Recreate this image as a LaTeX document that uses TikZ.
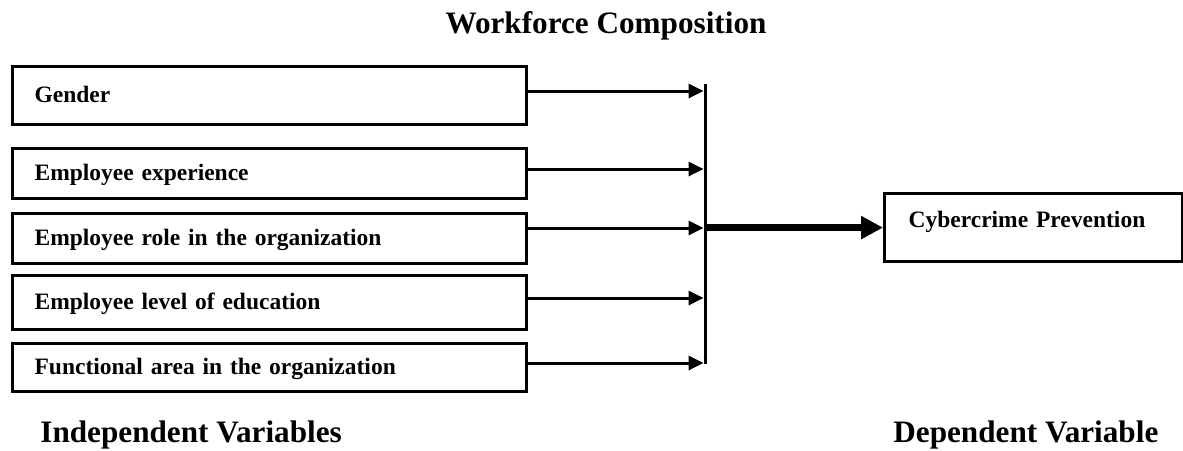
\documentclass[tikz,border=0pt]{standalone}
\usepackage{fontspec}
\setmainfont{Liberation Serif}
\usetikzlibrary{arrows.meta, positioning}

\tikzset{
  varbox/.style={draw, line width=1.6pt, anchor=north west, minimum width=257pt,
    text width=235pt, inner xsep=11pt, inner ysep=0pt, align=left,
    font=\fontsize{11.75}{14}\selectfont\bfseries},
  feed/.style={line width=1.5pt, -{Triangle[length=7.5pt,width=7pt]}, shorten >=0.7pt},
  bigfeed/.style={line width=3.3pt, -{Triangle[length=11pt,width=11pt]}},
  heading/.style={font=\fontsize{15.6}{18}\selectfont\bfseries, anchor=base west, inner sep=0pt},
}

\begin{document}
\begin{tikzpicture}[x=0.5pt, y=-0.5pt]
  \useasboundingbox (0,0) rectangle (1183,450);

  % headings
  \node[heading, anchor=base] (wfc) at (606,33) {Workforce Composition};
  \node[heading] (indep) at (40,442) {Independent Variables};
  \node[heading] (dep) at (893,442) {Dependent Variable};

  % independent variables
  \foreach \name/\ytop/\bh/\txt in {gen/65/29pt/Gender,
      exp/147/25pt/Employee experience,
      role/212/25pt/Employee role in the organization,
      edu/274/27pt/Employee level of education,
      area/342/24pt/Functional area in the organization}
    \node[varbox, minimum height=\bh, text depth=1pt] (\name) at (11,\ytop) {\txt};

  % collecting bar
  \coordinate (barTop) at (705,84);
  \coordinate (barBot) at (705,364);
  \draw[line width=1.5pt] (barTop) -- (barBot);

  % arrows into the bar
  \foreach \name/\ay in {gen/91, exp/169, role/228, edu/298, area/363}
    \draw[feed] (\name.east |- 0,\ay) -- (barTop |- 0,\ay);

  % dependent variable
  \node[varbox, minimum width=149pt, minimum height=34pt, text width=125pt,
        inner xsep=12pt, text depth=8pt] (cyber) at (883,192) {Cybercrime Prevention};
  \draw[bigfeed] (barTop |- cyber.west) -- (cyber.west);
\end{tikzpicture}
\end{document}
